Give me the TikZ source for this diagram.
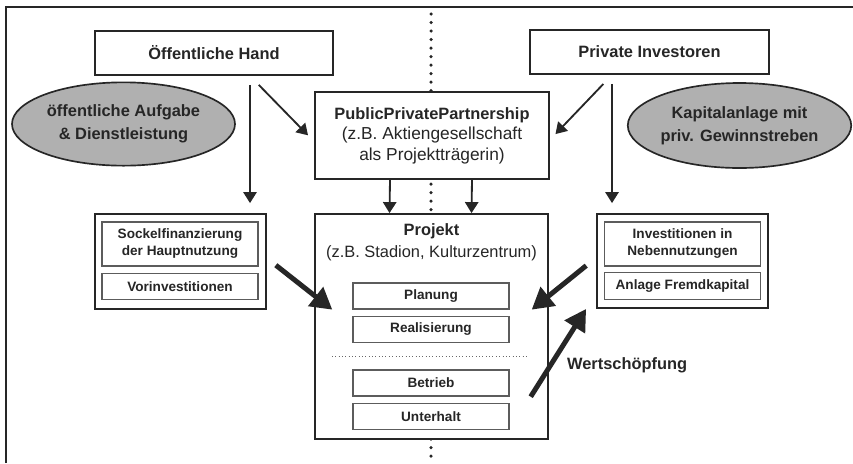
\documentclass[tikz,border=0pt]{standalone}
\usepackage{fontspec}
\setmainfont{Liberation Sans}
\usepackage{xcolor}
\usetikzlibrary{arrows.meta, positioning, shapes.geometric}

\definecolor{ink}{HTML}{262626}
\definecolor{ovalgray}{HTML}{B0B0B0}

\begin{document}
\begin{tikzpicture}[
  x=0.03cm, y=-0.03cm,
  big/.style={font=\fontsize{14}{18}\selectfont\bfseries, text=ink},
  box/.style={rectangle, draw=ink, line width=0.055cm, fill=white,
    inner sep=0pt, align=center, big},
  inbox/.style={rectangle, draw=ink!75, line width=0.04cm, fill=white,
    inner sep=0pt, minimum width=4.68cm, align=center, text=ink,
    font=\fontsize{11.6}{14.5}\selectfont\bfseries},
  oval/.style={ellipse, draw=ink, line width=0.05cm, fill=ovalgray,
    minimum width=6.69cm, minimum height=2.5cm, inner sep=0pt,
    align=center, font=\fontsize{14}{19.5}\selectfont\bfseries, text=ink},
  arrow/.style={-{Triangle[length=0.33cm, width=0.4cm]}, line width=0.055cm, draw=ink},
  fat/.style={-{Triangle[length=0.64cm, width=0.7cm]}, line width=0.15cm, draw=ink}
]
  \useasboundingbox (0,0) rectangle (853,463);

  % frame and middle axis
  \draw[ink, line width=0.06cm] (6,463) -- (6,7) -- (853,7);
  \draw[ink, line width=0.105cm, line cap=round, dash pattern=on 0pt off 0.255cm]
    (431,14) -- (431,463);

  % top row
  \node[box, minimum width=7.14cm, minimum height=1.32cm] (oeh) at (214,53) {Öffentliche Hand};
  \node[box, minimum width=7.17cm, minimum height=1.32cm] (pi) at (649.5,52) {Private Investoren};
  \node[oval] (ovL) at (123.5,124) {öffentliche Aufgabe\\\& Dienstleistung};
  \node[oval, minimum height=2.55cm] (ovR) at (739.5,125.5) {Kapitalanlage mit\\priv. Gewinnstreben};
  \node[box, minimum width=7.02cm, minimum height=2.61cm] (ppp) at (432,135.5)
    {PublicPrivatePartnership\\[-1pt]
     {\fontsize{14.8}{18}\mdseries (z.B. Aktiengesellschaft}\\
     {\fontsize{14.8}{18}\mdseries als Projektträgerin)}};

  % left and right funding
  \node[box, minimum width=5.13cm, minimum height=2.85cm] (sockel) at (180.5,261.5) {};
  \node[inbox, minimum height=1.32cm] (sockA) at (180,244) {Sockelfinanzierung\\der Hauptnutzung};
  \node[inbox, minimum height=0.78cm, below=0.18cm of sockA] (sockB) {Vorinvestitionen};

  \node[box, minimum width=5.13cm, minimum height=2.82cm] (rbox) at (682.5,261) {};
  \node[inbox, minimum height=1.32cm] (nebA) at (682.5,244) {Investitionen in\\Nebennutzungen};
  \node[inbox, minimum height=0.81cm, below=0.15cm of nebA] (nebB) {Anlage Fremdkapital};

  % project
  \node[box, minimum width=6.99cm, minimum height=6.75cm] (proj) at (431.5,326.5) {};
  \node[align=center, text=ink, font=\fontsize{14}{18.8}\selectfont] (projtxt) at (431.5,242)
    {\textbf{Projekt}\\(z.B. Stadion, Kulturzentrum)};
  \node[inbox, minimum height=0.78cm] (plan) at (431,296) {Planung};
  \node[inbox, minimum height=0.78cm, below=0.18cm of plan] (real) {Realisierung};
  \node[inbox, minimum height=0.78cm] (betr) at (431,383) {Betrieb};
  \node[inbox, minimum height=0.78cm, below=0.18cm of betr] (unter) {Unterhalt};
  \coordinate (sepL) at (332,356);
  \coordinate (sepR) at (529,356);
  \draw[ink!70, line width=0.03cm, dotted] (sepL) -- (sepR);

  % arrows
  \coordinate (colL) at (250,0);
  \coordinate (colR) at (612,0);
  \draw[arrow, shorten <=0.27cm, shorten >=0.3cm] (oeh.south -| colL) -- (sockel.north -| colL);
  \draw[arrow, shorten <=0.375cm, shorten >=0.26cm] (oeh.south -| colL) -- ([yshift=-0.18cm]ppp.west);
  \draw[arrow, shorten <=0.27cm, shorten >=0.3cm] (pi.south -| colR) -- (rbox.north -| colR);
  \draw[arrow, shorten <=0.375cm, shorten >=0.24cm] (pi.south -| colR) -- ([yshift=-0.13cm]ppp.east);
  \foreach \dx in {-1.26cm, 1.2cm}
    \draw[arrow] ([xshift=\dx]ppp.south) -- ([xshift=\dx]proj.north);

  \draw[fat, shorten <=0.34cm] ([yshift=0.1cm]sockel.east) -- ([xshift=-0.6cm]plan.south west);
  \draw[fat, shorten <=0.38cm] ([yshift=0.1cm]rbox.west) -- ([xshift=0.66cm]plan.south east);
  \draw[fat] ([xshift=0.63cm]betr.south east) -- ([xshift=-0.3cm]rbox.south west);
  \node[big, anchor=west] (wert) at (563,365) {Wertschöpfung};
\end{tikzpicture}
\end{document}
